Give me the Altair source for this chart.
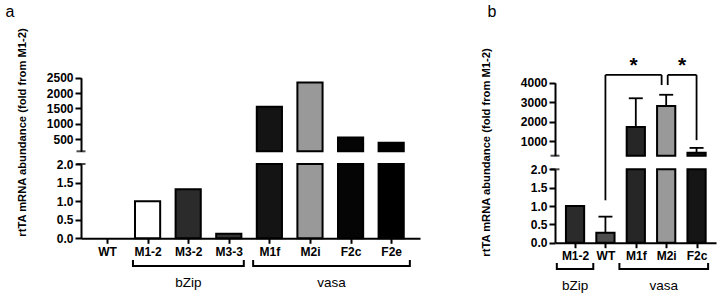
import json
import pandas as pd
import altair as alt

FONT = "Liberation Sans"

# ---------------- data: panel a ----------------
a_cats = ["WT", "M1-2", "M3-2", "M3-3", "M1f", "M2i", "F2c", "F2e"]
a_vals = [0.0, 1.0, 1.32, 0.12, 1550, 2340, 550, 380]
a_fill = ["#ffffff", "#ffffff", "#2b2b2b", "#333333", "#141414", "#999999", "#050505", "#000000"]
a_groups = ["bZip", "vasa"]
a_group_start = [0.64, 3.6]
a_group_end = [3.37, 7.46]

# ---------------- data: panel b ----------------
b_cats = ["M1-2", "WT", "M1f", "M2i", "F2c"]
b_vals = [1.0, 0.27, 1720, 2800, 400]
b_err = [0.0, 0.44, 1480, 580, 250]
b_fill = ["#2b2b2b", "#4d4d4d", "#262626", "#999999", "#151515"]
b_groups = ["bZip", "vasa"]
b_group_start = [-0.6, 1.46]
b_group_end = [0.6, 4.38]

# significance brackets (panel b, upper-segment units)
sig_left = [1.0, 3.05]
sig_right = [2.85, 4.0]
sig_left_end = [-2040, 3880]
sig_right_end = [3880, 1050]
sig_level = [4400, 4400]
sig_star_y = [4880, 4880]
sig_star = ["*", "*"]

Y_TITLE = "rtTA mRNA abundance (fold from M1-2)"


def make_axis(**kw):
    base = dict(domainColor="black", domainWidth=2, tickColor="black", tickWidth=2,
                labelColor="black", labelFont=FONT, labelFontWeight="bold", labelFontSize=12,
                grid=False, labelFlush=False, labelOverlap=False)
    base.update(kw)
    return alt.Axis(**base)


def build_panel(cats, vals, fills, errs, gnames, gstart, gend, cfg, sig=None):
    df = pd.DataFrame({"pos": list(range(len(cats))), "cat": cats, "value": vals,
                       "fill": fills, "err": errs})
    xs = alt.Scale(domain=cfg["xdom"], range=cfg["xrng"], nice=False, zero=False)
    ysu = alt.Scale(domain=cfg["updom"], range=cfg["uprng"], nice=False, zero=False)
    ysl = alt.Scale(domain=[0, 2], range=cfg["lorng"], nice=False, zero=False)
    hw = cfg["hw"]
    brk = cfg["updom"][0]

    xaxis = make_axis(orient="bottom", offset=cfg["xoff"], values=list(range(len(cats))),
                      labelExpr=json.dumps(cats) + "[datum.value]", title=None,
                      tickSize=5, labelPadding=3, labelAngle=0)
    up_axis = make_axis(orient="left", offset=cfg["yoff"], values=cfg["upticks"], format="d",
                        title=None, tickSize=6, labelPadding=2)
    lo_axis = make_axis(orient="left", offset=cfg["yoff"], values=[0, 0.5, 1, 1.5, 2], format=".1f",
                        tickSize=6, labelPadding=2, title=Y_TITLE, titleX=cfg["titleX"],
                        titleY=cfg["titleY"], titleAngle=270, titleAlign="center",
                        titleBaseline="middle", titleFont=FONT, titleFontWeight="bold",
                        titleFontSize=11.2, titleColor="black")

    layers = []
    layers.append(alt.Chart(df).transform_filter(f"datum.value > {brk}").transform_calculate(
        x1=f"datum.pos - {hw}", x2=f"datum.pos + {hw}"
    ).mark_bar(stroke="black", strokeWidth=2).encode(
        x=alt.X("x1:Q", scale=xs, axis=None), x2="x2:Q",
        y=alt.Y("value:Q", scale=ysu, axis=up_axis), y2=alt.datum(brk),
        fill=alt.Fill("fill:N", scale=None),
    ))
    layers.append(alt.Chart(df).transform_filter("datum.value > 0").transform_calculate(
        x1=f"datum.pos - {hw}", x2=f"datum.pos + {hw}", top="min(datum.value, 2)"
    ).mark_bar(stroke="black", strokeWidth=2).encode(
        x=alt.X("x1:Q", scale=xs, axis=xaxis), x2="x2:Q",
        y=alt.Y("top:Q", scale=ysl, axis=lo_axis), y2=alt.datum(0),
        fill=alt.Fill("fill:N", scale=None),
    ))

    brk_df = pd.DataFrame({"x": [cfg["xdom"][0]], "yu": [brk], "yl": [2]})
    layers.append(alt.Chart(brk_df).mark_tick(orient="horizontal", size=9, thickness=2, color="black").encode(
        x=alt.X("x:Q", scale=xs, axis=None), y=alt.Y("yu:Q", scale=ysu, axis=None)))
    layers.append(alt.Chart(brk_df).mark_tick(orient="horizontal", size=9, thickness=2, color="black").encode(
        x=alt.X("x:Q", scale=xs, axis=None), y=alt.Y("yl:Q", scale=ysl, axis=None)))

    if any(e > 0 for e in errs):
        edf = df[df["err"] > 0]
        cw = cfg["capw"]
        for ys, filt in ((ysu, f"datum.value > {brk}"), (ysl, "datum.value <= 2")):
            base = alt.Chart(edf).transform_filter(filt).transform_calculate(
                hi="datum.value + datum.err", c1=f"datum.pos - {cw}", c2=f"datum.pos + {cw}")
            layers.insert(0, base.mark_rule(color="black", strokeWidth=1.8).encode(
                x=alt.X("pos:Q", scale=xs, axis=None),
                y=alt.Y("value:Q", scale=ys, axis=None), y2="hi:Q"))
            layers.append(base.mark_rule(color="black", strokeWidth=1.8).encode(
                x=alt.X("c1:Q", scale=xs, axis=None), x2="c2:Q",
                y=alt.Y("hi:Q", scale=ys, axis=None)))

    if sig is not None:
        sb = alt.Chart(pd.DataFrame(sig))
        rule = dict(color="black", strokeWidth=1.8)
        layers += [
            sb.mark_rule(**rule).encode(x=alt.X("left:Q", scale=xs, axis=None), x2="right:Q",
                                        y=alt.Y("level:Q", scale=ysu, axis=None)),
            sb.mark_rule(**rule).encode(x=alt.X("left:Q", scale=xs, axis=None),
                                        y=alt.Y("level:Q", scale=ysu, axis=None), y2="lend:Q"),
            sb.mark_rule(**rule).encode(x=alt.X("right:Q", scale=xs, axis=None),
                                        y=alt.Y("level:Q", scale=ysu, axis=None), y2="rend:Q"),
            sb.transform_calculate(mid="(datum.left + datum.right) / 2").mark_text(
                font=FONT, fontSize=21, fontWeight="bold", color="black", baseline="middle"
            ).encode(x=alt.X("mid:Q", scale=xs, axis=None),
                     y=alt.Y("star_y:Q", scale=ysu, axis=None), text="star:N"),
        ]

    gb = alt.Chart(pd.DataFrame({"name": gnames, "start": gstart, "end": gend}))
    by = cfg["bracket_y"]
    layers += [
        gb.mark_rule(color="black", strokeWidth=2).encode(
            x=alt.X("start:Q", scale=xs, axis=None), x2="end:Q", y=alt.value(by)),
        gb.mark_rule(color="black", strokeWidth=2).encode(
            x=alt.X("start:Q", scale=xs, axis=None), y=alt.value(by + 1), y2=alt.value(by - 6)),
        gb.mark_rule(color="black", strokeWidth=2).encode(
            x=alt.X("end:Q", scale=xs, axis=None), y=alt.value(by + 1), y2=alt.value(by - 6)),
        gb.transform_calculate(mid="(datum.start + datum.end) / 2").mark_text(
            font=FONT, fontSize=13.5, color="black", baseline="middle"
        ).encode(x=alt.X("mid:Q", scale=xs, axis=None), y=alt.value(cfg["glabel_y"]), text="name:N"),
    ]

    layers.append(alt.Chart(pd.DataFrame({"t": [cfg["label"]]})).mark_text(
        font=FONT, fontSize=16, color="black", baseline="middle", align="center"
    ).encode(text="t:N", x=alt.value(cfg["label_xy"][0]), y=alt.value(cfg["label_xy"][1])))
    return layers


cfg_a = dict(xdom=[-0.64, 7.71], xrng=[81, 420], updom=[100, 2500], uprng=[151.3, 77.7],
             lorng=[238.3, 164], upticks=[500, 1000, 1500, 2000, 2500], hw=0.31,
             xoff=238.3 - 300, yoff=-81, titleX=22 - 81, titleY=132, capw=0.23,
             bracket_y=266, glabel_y=283, label="a", label_xy=[10, 12])
cfg_b = dict(xdom=[-0.66, 4.64], xrng=[555, 716], updom=[250, 4000], uprng=[155.7, 82.7],
             lorng=[242.7, 169.3], upticks=[1000, 2000, 3000, 4000], hw=0.30,
             xoff=242.7 - 300, yoff=-555, titleX=486 - 555, titleY=152, capw=0.23,
             bracket_y=269, glabel_y=286, label="b", label_xy=[492, 12])

sig = {"left": sig_left, "right": sig_right, "lend": sig_left_end, "rend": sig_right_end,
       "level": sig_level, "star_y": sig_star_y, "star": sig_star}

layers_a = build_panel(a_cats, a_vals, a_fill, [0] * len(a_cats), a_groups, a_group_start,
                       a_group_end, cfg_a)
layers_b = build_panel(b_cats, b_vals, b_fill, b_err, b_groups, b_group_start, b_group_end,
                       cfg_b, sig=sig)

chart = alt.layer(*layers_a, *layers_b).resolve_scale(
    x="independent", y="independent"
).resolve_axis(x="independent", y="independent").properties(
    width=720, height=300, padding=0, autosize=alt.AutoSizeParams(type="none"),
    background="white"
).configure_view(strokeWidth=0)

chart.save("out.html", embed_options={"renderer": "svg", "actions": False})
